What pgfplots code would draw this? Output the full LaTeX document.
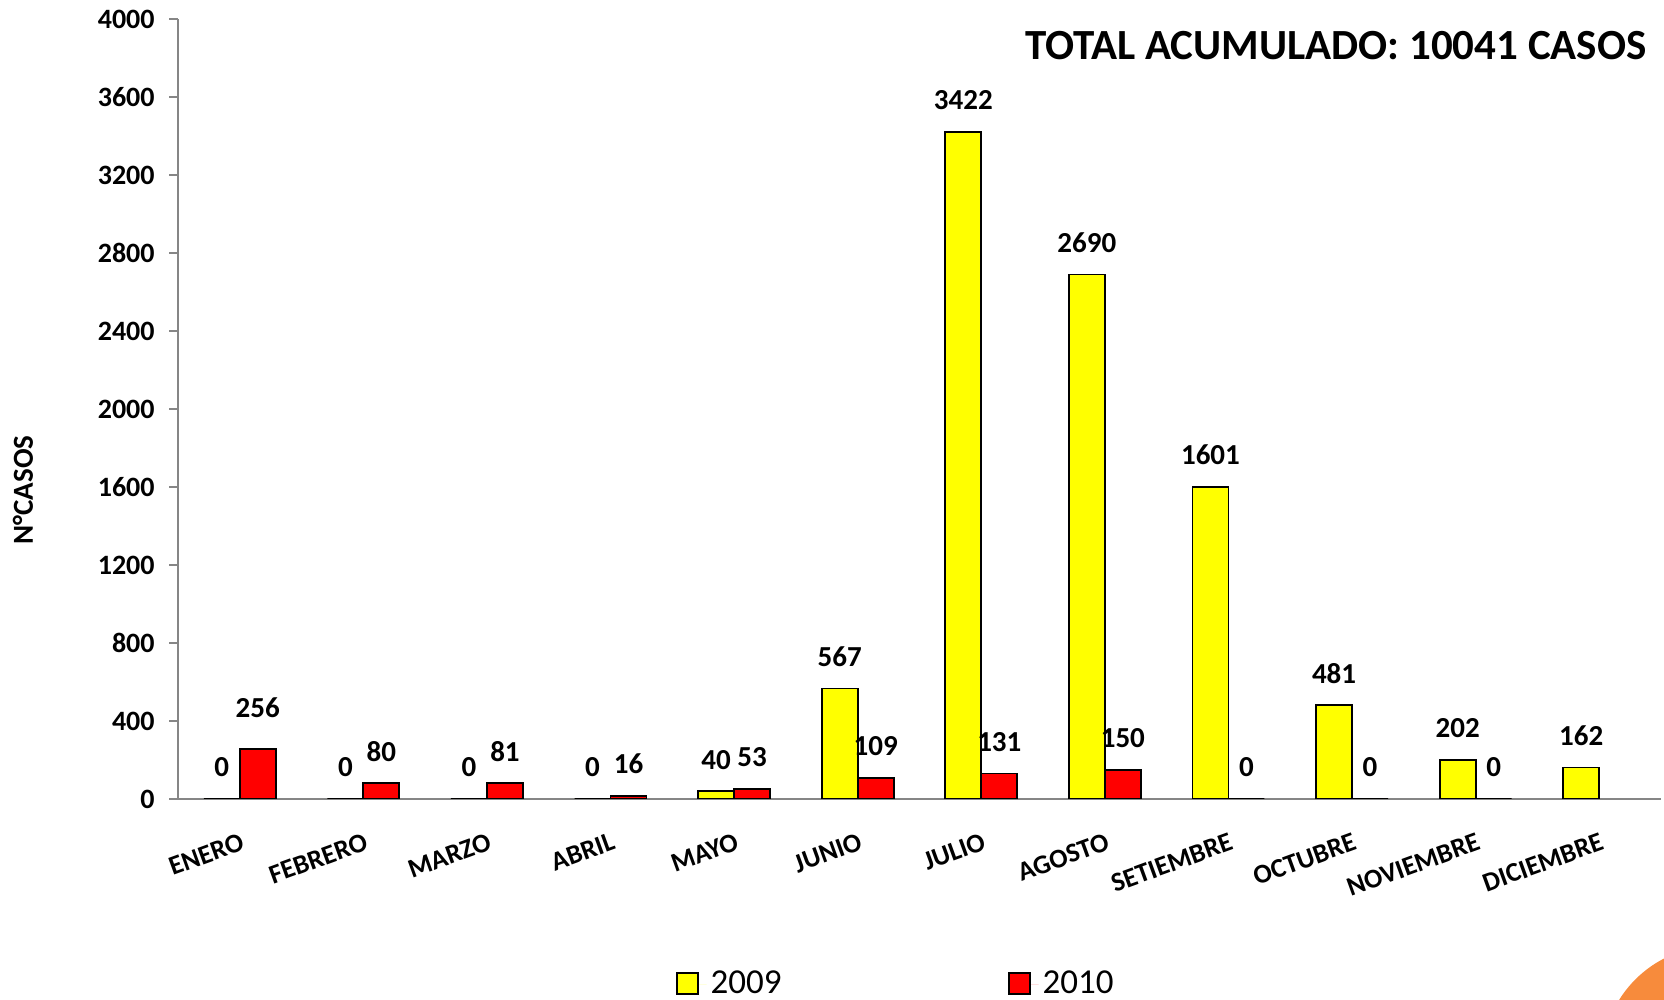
\documentclass[border=0pt]{standalone}
\usepackage{fontspec}
\setmainfont{Carlito}
\usepackage{pgfplots}
\pgfplotsset{compat=1.18}
\definecolor{ybarc}{RGB}{255,255,0}
\definecolor{rbarc}{RGB}{255,0,0}
\definecolor{axgray}{RGB}{134,134,134}
\definecolor{orng}{RGB}{247,139,60}
\begin{document}
\begin{tikzpicture}
\useasboundingbox (0,0) rectangle (832pt,500pt);
\begin{scope}
\clip (0,0) rectangle (832pt,500pt);
\fill[orng] (858pt,-30pt) circle (57pt);
\end{scope}
\begin{axis}[
  at={(89pt,100.5pt)}, anchor=south west,
  scale only axis, width=741.5pt, height=390pt,
  ybar=0pt, bar width=18pt,
  xmin=-0.5, xmax=11.5, ymin=0, ymax=4000,
  xtick={0,...,11},
  xticklabels={ENERO,FEBRERO,MARZO,ABRIL,MAYO,JUNIO,JULIO,AGOSTO,SETIEMBRE,OCTUBRE,NOVIEMBRE,DICIEMBRE},
  ytick={0,400,...,4000},
  axis x line*=bottom, axis y line*=left,
  axis line style={axgray, line width=1.2pt},
  xtick style={draw=none},
  ytick style={axgray, line width=1.2pt},
  tick align=outside, major tick length=4.5pt,
  /pgf/number format/.cd, 1000 sep={}, assume math mode=true, /pgfplots/.cd,
  yticklabel style={font=\bfseries\fontsize{14}{14}\selectfont, inner sep=0pt, xshift=-7pt},
  xticklabel style={font=\bfseries\fontsize{13.5}{14}\selectfont, inner sep=0pt, yshift=-12pt, rotate=20, anchor=north east},
  ylabel={N°CASOS},
  every axis y label/.style={at={(rel axis cs:0,0.396)}, xshift=-77.5pt, rotate=90, anchor=center, font=\bfseries\fontsize{14.5}{15}\selectfont},
  nodes near coords,
  visualization depends on={\thisrow{dy} \as \dy},
  every node near coord/.append style={font=\bfseries\fontsize{14.5}{15}\selectfont, inner sep=0pt, anchor=south, yshift=10.5pt+\dy pt, text=black},
  legend columns=2,
  legend style={at={(axis description cs:0.4846,-0.2372)}, anchor=center, draw=none, font=\fontsize{17.5}{18}\selectfont,
    /tikz/every even column/.append style={column sep=111pt}},
  legend image code/.code={\path[draw=none] (0pt,0pt) -- (15pt,0pt); \draw[#1, line width=1pt] (0pt,-5pt) rectangle (10.5pt,5.5pt);},
]
\addplot[fill=ybarc, draw=black, line width=0.9pt] table[x=x, y=y] {
x y dy
0 0 0
1 0 0
2 0 0
3 0 0
4 40 0
5 567 0
6 3422 0
7 2690 0
8 1601 0
9 481 0
10 202 0
11 162 0
};
\addplot[fill=rbarc, draw=black, line width=0.9pt] table[x=x, y=y] {
x y dy
0 256 4.5
1 80 0
2 81 0
3 16 0
4 53 0
5 109 0
6 131 0
7 150 0
8 0 0
9 0 0
10 0 0
};
\legend{2009,2010}
\end{axis}
\node[anchor=east, font=\bfseries\fontsize{21.5}{22}\selectfont, inner sep=0pt] at (823.5pt,477pt) {TOTAL ACUMULADO: 10041 CASOS};
\end{tikzpicture}
\end{document}
